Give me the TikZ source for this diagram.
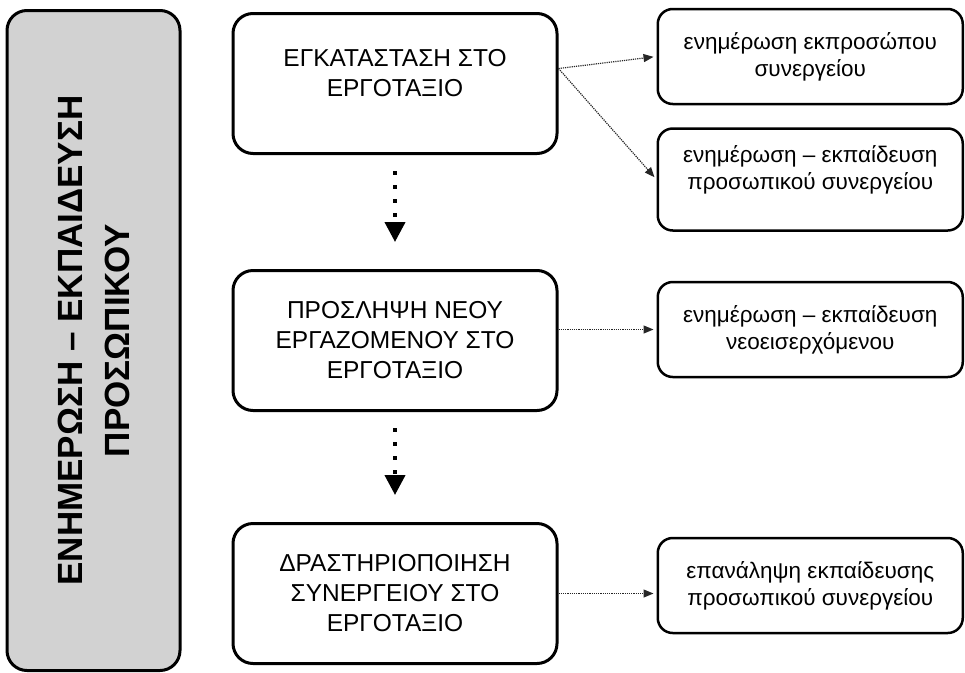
\documentclass[tikz,border=0pt]{standalone}
\usepackage{fontspec}
\setmainfont{Liberation Sans}
\usetikzlibrary{positioning,arrows.meta}

\tikzset{
  stage/.style={draw, line width=3pt, rounded corners=20pt, minimum width=324pt, minimum height=140pt, align=center, font=\fontsize{24.5}{30}\selectfont},
  task/.style={draw, line width=2.5pt, rounded corners=15pt, minimum width=305pt, minimum height=95pt, align=center, font=\fontsize{22.5}{27}\selectfont},
  bar/.style={draw, line width=3pt, rounded corners=20pt, fill=gray!35, align=center, font=\bfseries\fontsize{35}{47}\selectfont},
  link/.style={densely dotted, line width=1.2pt, gray!30!black, -{Triangle[length=10pt,width=8pt]}, shorten >=3pt},
  flow/.style={line width=4pt, dash pattern=on 4pt off 10pt, -{Triangle[length=20pt,width=20pt]}, shorten <=16pt, shorten >=27pt}
}

\begin{document}
\begin{tikzpicture}[x=1pt, y=-1pt]
	\useasboundingbox (0,0) rectangle (965,672);
	
	\node[stage, text depth=22pt](install) at (395,83.5){ΕΓΚΑΤΑΣΤΑΣΗ ΣΤΟ\\ΕΡΓΟΤΑΞΙΟ};
	\node[stage, below = 114pt of install](hire){ΠΡΟΣΛΗΨΗ ΝΕΟΥ\\ΕΡΓΑΖΟΜΕΝΟΥ ΣΤΟ\\ΕΡΓΟΤΑΞΙΟ};
	\node[stage, below = 110pt of hire](activate){ΔΡΑΣΤΗΡΙΟΠΟΙΗΣΗ\\ΣΥΝΕΡΓΕΙΟΥ ΣΤΟ\\ΕΡΓΟΤΑΞΙΟ};
	
	\node[task, right = 98pt of install, yshift = 27pt](inform){ενημέρωση εκπροσώπου\\συνεργείου};
	\node[task, below = 22pt of inform, minimum height = 102pt, text depth = 24pt](train){ενημέρωση – εκπαίδευση\\προσωπικού συνεργείου};
	\node[task, right = 98pt of hire, yshift = 11pt](newcomer){ενημέρωση – εκπαίδευση\\νεοεισερχόμενου};
	\node[task, right = 98pt of activate, yshift = 8pt](repeat){επανάληψη εκπαίδευσης\\προσωπικού συνεργείου};
	
	\node[bar, rotate = 90, minimum width = 660pt, minimum height = 173pt, left = 50pt of hire, anchor = south](staff){ΕΝΗΜΕΡΩΣΗ – ΕΚΠΑΙΔΕΥΣΗ\\ΠΡΟΣΩΠΙΚΟΥ};
	
	\coordinate (fork) at ([yshift = 15pt]install.east);
	
	\draw[flow] (install.south) -- (hire.north);
	\draw[flow] (hire.south) -- (activate.north);
	
	\draw[link] (fork) -- (inform.west);
	\draw[link] (fork) -- (train.west);
	\draw[link] (hire.east |- newcomer.west) -- (newcomer.west);
	\draw[link] (activate.east) -- (activate.east -| repeat.west);
\end{tikzpicture}
\end{document}
